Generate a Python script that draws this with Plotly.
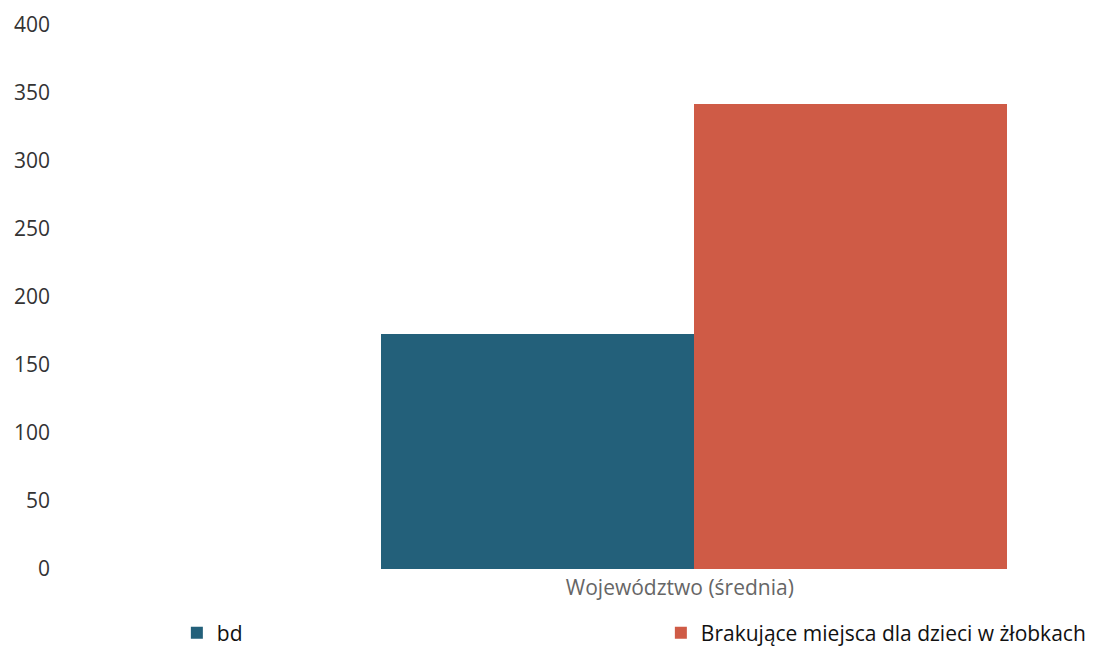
import plotly.graph_objects as go

categories = ["Województwo (średnia)"]
series_names = ["bd", "Brakujące miejsca dla dzieci w żłobkach"]
bd_values = [173]
brak_values = [342]
y_ticks = [0, 50, 100, 150, 200, 250, 300, 350, 400]

fig = go.Figure()
fig.add_trace(go.Bar(x=categories, y=bd_values, name=series_names[0],
                     marker=dict(color="#23607a", line=dict(width=0))))
fig.add_trace(go.Bar(x=categories, y=brak_values, name=series_names[1],
                     marker=dict(color="#cf5b46", line=dict(width=0))))

fig.update_layout(
    width=1097, height=650,
    margin=dict(l=60, r=10, t=17, b=89, autoexpand=False),
    paper_bgcolor="white", plot_bgcolor="white",
    barmode="group", bargap=0, bargroupgap=0,
    font=dict(family="Open Sans, DejaVu Sans, sans-serif", color="#333333"),
    showlegend=True,
    legend=dict(orientation="h", x=0.106, xanchor="left", y=-0.08, yanchor="top",
                entrywidth=439, entrywidthmode="pixels",
                font=dict(size=21, color="#111111", family="Open Sans, sans-serif"),
                itemwidth=30, traceorder="normal", tracegroupgap=0),
)
fig.update_xaxes(range=[-1.0, 0.641], showgrid=False, showline=False, zeroline=False,
                 ticks="", tickfont=dict(size=21, color="#666666"), ticklabelstandoff=4,
                 ticklabelshift=-14)
fig.update_yaxes(range=[0, 400], tickvals=y_ticks, showgrid=False, showline=False,
                 zeroline=False, ticks="", tickfont=dict(size=21, color="#333333"),
                 ticklabelstandoff=17)

fig.write_html("out.html")
